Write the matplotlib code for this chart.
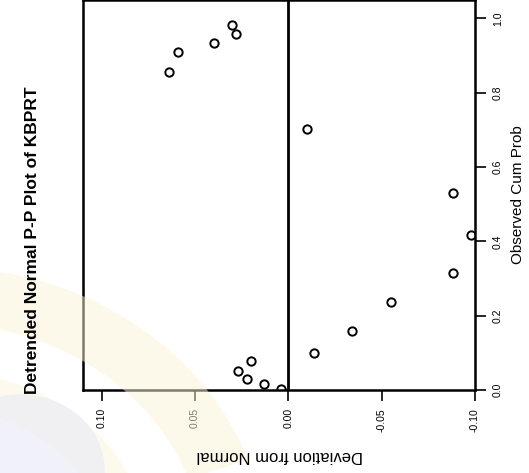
import matplotlib
matplotlib.use("Agg")
import matplotlib.pyplot as plt
from matplotlib.patches import Wedge, Circle

plt.rcParams["font.family"] = ["Liberation Sans", "DejaVu Sans"]

# detrended normal P-P values
cum_prob = [0.003, 0.016, 0.030, 0.051, 0.078, 0.099, 0.159, 0.237, 0.315,
            0.417, 0.530, 0.702, 0.855, 0.909, 0.933, 0.957, 0.981]
deviation = [0.004, 0.013, 0.022, 0.027, 0.020, -0.014, -0.034, -0.055, -0.088,
             -0.098, -0.088, -0.010, 0.064, 0.059, 0.040, 0.028, 0.030]

dev_ticks = [0.10, 0.05, 0.00, -0.05, -0.10]
dev_labels = ["0.10", "0.05", "0.00", "-0.05", "-0.10"]
prob_ticks = [0.0, 0.2, 0.4, 0.6, 0.8, 1.0]
prob_labels = ["0.0", "0.2", "0.4", "0.6", "0.8", "1.0"]

W, H = 529, 473
fig = plt.figure(figsize=(W / 100, H / 100), dpi=100)

# faint watermark from the scanned page
fig.patches.append(Wedge((-60 / W, 1 - 560 / H), 0.62, 20, 80, width=0.12,
                         transform=fig.transFigure, color="#fdf4d6", alpha=0.5, lw=0))
fig.patches.append(Wedge((-60 / W, 1 - 560 / H), 0.40, 10, 85, width=0.08,
                         transform=fig.transFigure, color="#fdf6dc", alpha=0.5, lw=0))
fig.patches.append(Circle((20 / W, 1 - 470 / H), 0.16, transform=fig.transFigure,
                          color="#e8e8f7", alpha=0.6, lw=0))

# the whole chart is printed rotated 90 degrees counter-clockwise
ax = fig.add_axes([83 / W, (H - 390) / H, (475 - 83) / W, 389.5 / H])
ax.patch.set_alpha(0)

ax.axvline(0, color="black", lw=2)
ax.plot(deviation, cum_prob, "o", mfc="none", mec="black", ms=6, mew=1.4)

ax.set_xlim(0.11, -0.10)
ax.set_ylim(0, 1.048)

ax.set_xticks(dev_ticks)
ax.set_xticklabels(dev_labels, rotation=90, fontsize=7.5)
ax.yaxis.tick_right()
ax.set_yticks(prob_ticks)
ax.set_yticklabels(prob_labels, rotation=90, fontsize=7.5, va="center")
ax.tick_params(direction="out", length=8, width=1.2, pad=5)

for s in ax.spines.values():
    s.set_linewidth(1.8)

fig.text(33 / W, 1 - 240 / H, "Detrended Normal P-P Plot of KBPRT", rotation=90,
         ha="center", va="center", fontsize=12.5, fontweight="bold")
fig.text(280 / W, 1 - 455 / H, "Deviation from Normal", rotation=180,
         ha="center", va="center", fontsize=12)
fig.text(518 / W, 1 - 195 / H, "Observed Cum Prob", rotation=90,
         ha="center", va="center", fontsize=11)

fig.savefig("out.png", dpi=100)
